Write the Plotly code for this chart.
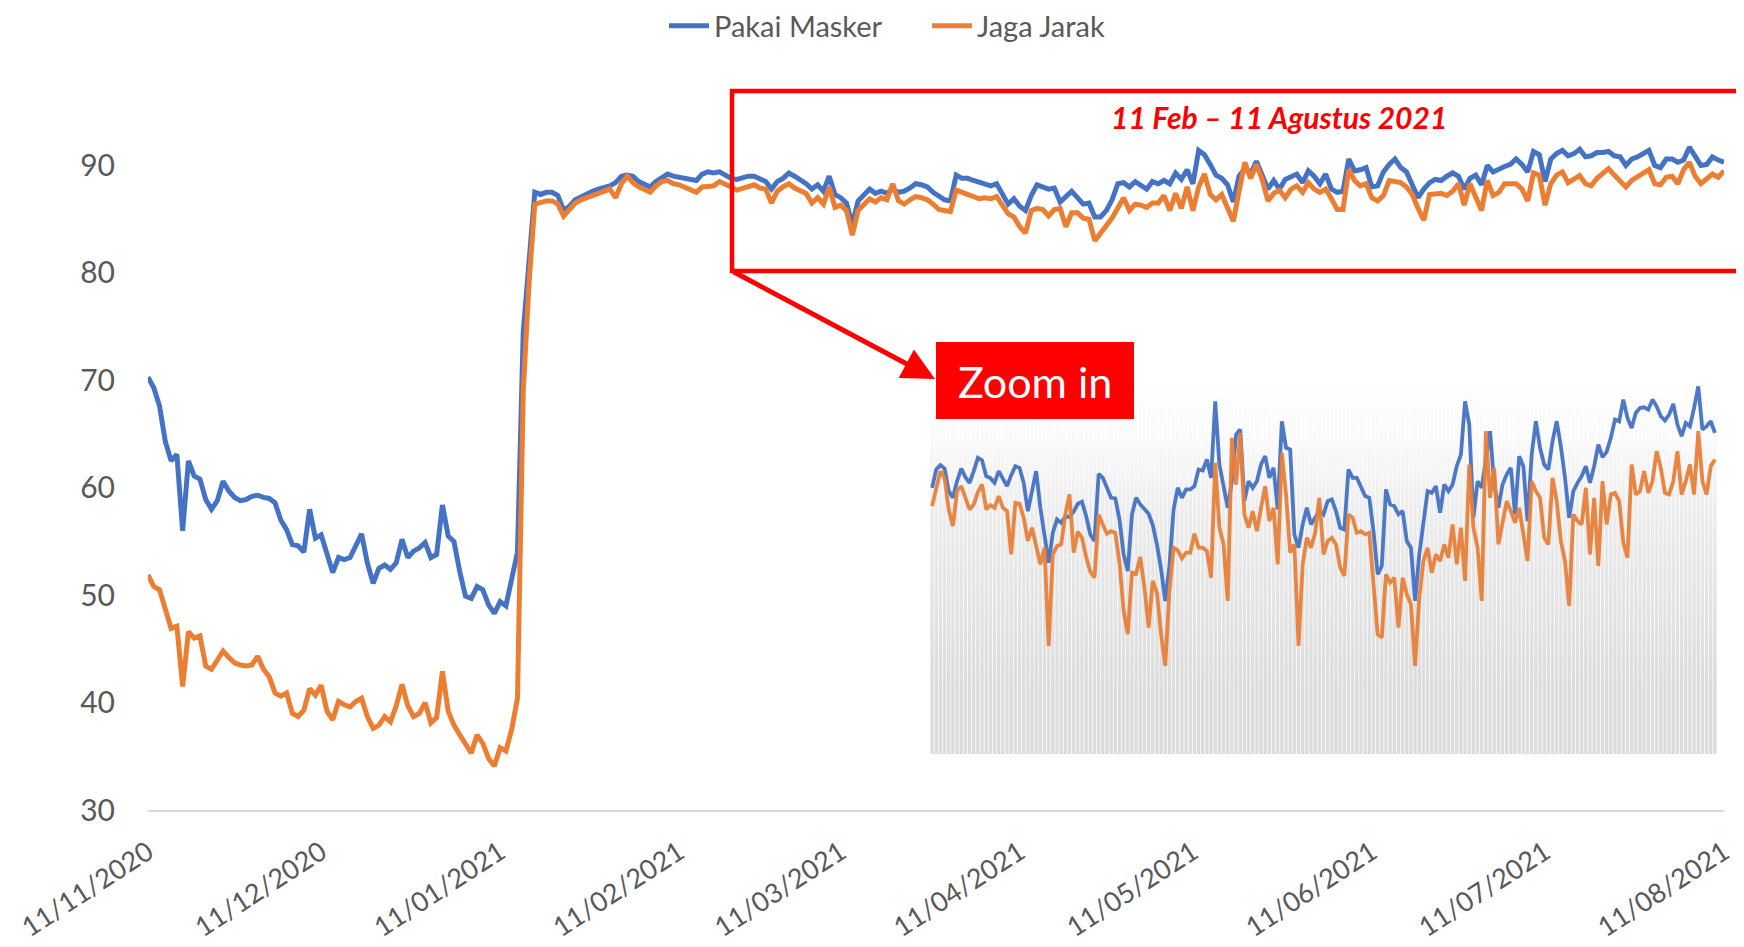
import pandas as pd
import plotly.graph_objects as go

# ---------------- main chart data (daily, 11/11/2020 .. 11/08/2021) ----------------
start_date = "2020-11-11"
end_date = "2021-08-11"

pakai_masker = [
    70.3, 69.3, 67.6, 64.3, 62.5, 63.1, 56.0, 62.5, 61.1, 60.8,
    58.9, 58.0, 58.8, 60.6, 59.7, 59.1, 58.8, 58.9, 59.2, 59.3,
    59.1, 59.0, 58.6, 57.0, 56.1, 54.7, 54.6, 54.0, 58.0, 55.3,
    55.6, 53.8, 52.1, 53.5, 53.3, 53.5, 54.6, 55.7, 53.0, 51.1,
    52.5, 52.8, 52.4, 53.0, 55.2, 53.5, 54.1, 54.4, 54.9, 53.5,
    53.8, 58.4, 55.5, 55.0, 52.2, 49.9, 49.7, 50.8, 50.5, 49.1,
    48.3, 49.4, 49.0, 51.5, 54.0, 74.5, 81.0, 87.5, 87.3, 87.5,
    87.5, 87.2, 85.8, 86.2, 86.8, 87.1, 87.3, 87.6, 87.8, 87.9,
    88.1, 88.4, 89.0, 89.1, 89.0, 88.5, 88.2, 88.0, 88.5, 88.8,
    89.2, 89.0, 88.9, 88.9, 88.8, 88.6, 89.2, 89.4, 89.3, 89.4,
    89.1, 88.8, 88.7, 88.9, 89.0, 89.0, 88.8, 88.5, 87.8, 88.5,
    88.8, 89.3, 89.0, 88.7, 88.3, 87.8, 88.2, 87.6, 89.0, 87.3,
    87.0, 86.5, 84.5, 86.7, 87.2, 87.8, 87.4, 87.6, 87.4, 87.8,
    87.5, 87.6, 87.9, 88.3, 88.2, 88.0, 87.5, 87.2, 86.8, 86.7,
    89.1, 88.8, 88.8, 88.6, 88.4, 88.3, 88.1, 88.3, 87.3, 86.4,
    86.9, 86.2, 85.8, 87.2, 88.2, 88.0, 87.8, 87.9, 86.6, 87.1,
    87.6, 87.0, 86.4, 86.5, 85.2, 85.2, 85.8, 86.8, 88.3, 88.4,
    88.0, 88.5, 88.2, 87.8, 88.5, 88.3, 88.6, 88.3, 89.3, 88.7,
    89.6, 88.3, 91.4, 91.0, 90.1, 89.1, 88.8, 88.2, 86.6, 89.0,
    89.7, 89.2, 90.4, 89.2, 87.8, 88.6, 87.8, 88.7, 89.0, 89.2,
    88.4, 89.5, 89.0, 88.3, 89.2, 87.8, 87.5, 87.6, 90.6, 89.5,
    89.6, 89.8, 88.0, 88.1, 89.4, 90.1, 90.6, 89.8, 89.4, 88.2,
    87.0, 87.8, 88.4, 88.7, 88.6, 89.0, 89.3, 89.0, 87.8, 88.8,
    89.1, 88.2, 90.0, 89.4, 89.7, 89.9, 90.1, 90.6, 90.1, 89.4,
    91.3, 91.0, 88.5, 90.6, 91.1, 91.4, 90.9, 91.1, 91.5, 90.8,
    90.9, 91.2, 91.2, 91.3, 90.9, 90.8, 90.0, 90.6, 90.8, 91.1,
    91.4, 90.0, 89.8, 90.6, 90.6, 90.3, 90.5, 91.7, 90.8, 90.0,
    90.1, 90.8, 90.5, 90.3,
]

jaga_jarak = [
    51.9, 50.8, 50.5, 48.5, 46.9, 47.1, 41.5, 46.6, 46.0, 46.2,
    43.4, 43.1, 44.0, 44.8, 44.2, 43.7, 43.5, 43.4, 43.5, 44.3,
    43.1, 42.4, 40.9, 40.6, 40.9, 39.0, 38.7, 39.3, 41.3, 40.7,
    41.6, 39.2, 38.4, 40.1, 39.8, 39.6, 40.1, 40.4, 38.7, 37.6,
    37.9, 38.7, 38.2, 39.7, 41.7, 39.7, 38.7, 39.0, 40.0, 38.1,
    38.6, 42.9, 39.2, 37.9, 37.0, 36.2, 35.3, 37.0, 36.2, 34.8,
    34.1, 35.8, 35.5, 37.5, 40.4, 69.0, 79.0, 86.4, 86.6, 86.7,
    86.7, 86.4, 85.3, 85.9, 86.5, 86.8, 87.0, 87.2, 87.4, 87.6,
    87.8, 87.0, 88.3, 89.0, 88.4, 88.0, 87.8, 87.5, 88.1, 88.5,
    88.6, 88.3, 88.2, 88.0, 87.8, 87.5, 88.0, 88.1, 88.1, 88.5,
    88.3, 88.0, 87.7, 87.9, 88.0, 88.2, 87.9, 87.8, 86.5, 87.6,
    88.0, 88.3, 87.9, 87.7, 87.4, 86.5, 87.0, 86.4, 88.0, 86.1,
    86.3, 85.8, 83.5, 85.8, 86.3, 86.9, 86.6, 87.0, 86.8, 88.3,
    86.7, 86.4, 86.8, 87.1, 87.0, 86.8, 86.4, 85.9, 85.8, 85.7,
    87.7, 87.5, 87.3, 87.0, 86.9, 87.0, 86.9, 87.1, 86.3, 85.5,
    85.2, 84.3, 83.7, 85.8, 86.0, 85.9, 85.3, 85.9, 86.0, 84.3,
    85.6, 85.6, 85.1, 85.0, 83.0, 83.8, 84.4, 85.1, 86.0, 87.0,
    85.8, 86.4, 86.3, 86.1, 86.5, 86.5, 87.2, 85.8, 87.4, 86.0,
    88.0, 85.8, 88.0, 89.2, 87.3, 86.8, 87.3, 86.0, 84.8, 87.6,
    90.3, 88.8, 90.1, 88.7, 86.7, 87.4, 87.7, 87.0, 87.8, 88.1,
    87.5, 88.4, 87.8, 87.5, 87.8, 86.9, 85.9, 85.9, 89.6, 88.6,
    88.1, 88.3, 87.0, 86.7, 87.2, 88.6, 88.5, 88.4, 88.0, 87.3,
    86.0, 84.9, 87.3, 87.4, 87.4, 87.2, 87.6, 88.3, 86.3, 88.3,
    87.1, 85.8, 88.6, 87.2, 87.5, 88.3, 88.3, 88.3, 87.8, 86.7,
    89.3, 89.1, 86.3, 88.3, 89.1, 89.4, 88.4, 88.7, 89.05, 88.3,
    88.1, 88.8, 89.3, 89.7, 89.1, 88.5, 88.0, 88.6, 88.9, 89.2,
    89.6, 88.3, 88.2, 88.9, 89.0, 88.3, 89.6, 90.3, 89.0, 88.3,
    88.8, 89.2, 88.9, 89.5,
]

tick_dates = ["2020-11-11", "2020-12-11", "2021-01-11", "2021-02-11", "2021-03-11",
              "2021-04-11", "2021-05-11", "2021-06-11", "2021-07-11", "2021-08-11"]
tick_labels = ["11/11/2020", "11/12/2020", "11/01/2021", "11/02/2021", "11/03/2021",
               "11/04/2021", "11/05/2021", "11/06/2021", "11/07/2021", "11/08/2021"]
y_ticks = [30, 40, 50, 60, 70, 80, 90]

# ---------------- inset ("Zoom in") data, in the inset's own relative units ----------------
inset_masker = [
    80.0, 85.5, 86.8, 85.8, 79.0, 77.0, 82.0, 85.8, 83.2, 81.5,
    85.0, 89.0, 88.3, 83.5, 82.9, 81.5, 85.0, 83.0, 80.5, 83.8,
    86.5, 86.0, 81.5, 73.0, 78.5, 85.0, 74.0, 65.0, 57.5, 66.5,
    70.5, 69.5, 71.3, 71.3, 72.8, 75.2, 75.8, 71.5, 66.0, 64.0,
    84.2, 83.0, 79.8, 77.0, 76.8, 70.5, 60.0, 55.0, 72.0, 77.0,
    75.0, 73.5, 72.2, 68.8, 63.0, 55.5, 46.0, 56.5, 73.5, 80.0,
    77.0, 79.5, 79.5, 80.5, 85.5, 85.2, 88.5, 83.0, 106.0, 87.0,
    81.0, 74.0, 82.0, 96.0, 97.5, 76.0, 82.0, 80.0, 82.0, 87.0,
    89.5, 83.0, 86.0, 73.5, 100.0, 92.0, 91.5, 66.0, 62.0, 69.0,
    74.0, 69.0, 71.0, 73.0, 72.0, 76.0, 76.5, 73.0, 68.0, 67.5,
    85.5, 83.0, 83.0, 80.0, 77.5, 77.0, 67.0, 54.0, 56.5, 79.5,
    75.0, 74.5, 72.0, 73.0, 64.0, 62.0, 46.0, 60.0, 69.0, 79.0,
    78.5, 80.5, 72.5, 81.0, 79.0, 81.0, 86.5, 90.0, 106.0, 99.0,
    71.0, 82.0, 80.0, 88.0, 97.0, 81.0, 74.0, 81.0, 84.0, 86.0,
    72.0, 89.5, 86.5, 70.0, 90.0, 100.0, 92.0, 87.0, 85.5, 94.0,
    100.0, 92.5, 83.0, 71.0, 79.0, 81.5, 83.5, 86.5, 81.5, 86.5,
    93.0, 89.2, 90.8, 95.0, 100.5, 100.0, 106.5, 101.0, 98.0, 102.5,
    104.0, 104.2, 103.5, 106.5, 104.5, 101.5, 100.2, 102.0, 105.2, 99.0,
    95.5, 99.5, 98.5, 104.0, 110.5, 97.5, 98.5, 100.0, 96.5,
]

inset_jarak = [
    74.5, 80.0, 85.0, 83.0, 73.5, 68.5, 79.0, 80.5, 77.0, 73.5,
    75.0, 78.7, 81.0, 73.5, 74.8, 74.0, 77.5, 74.0, 73.0, 60.0,
    75.5, 75.2, 71.0, 64.0, 68.0, 62.0, 57.0, 62.0, 32.5, 60.0,
    62.5, 63.0, 72.0, 78.0, 60.5, 66.8, 65.0, 59.2, 54.8, 53.0,
    72.0, 69.0, 66.2, 67.0, 66.5, 57.5, 43.0, 36.0, 54.5, 54.2,
    59.2, 50.0, 38.0, 52.0, 48.5, 36.0, 26.5, 49.0, 62.0, 61.2,
    58.8, 60.5, 60.5, 66.2, 62.0, 62.0, 61.0, 53.0, 87.5, 68.0,
    63.0, 46.0, 95.0, 81.0, 96.5, 72.0, 68.0, 73.0, 67.0, 74.0,
    80.5, 70.0, 74.0, 57.0, 90.5, 78.0, 60.5, 63.0, 32.5, 57.0,
    65.0, 62.0, 66.5, 77.0, 60.0, 64.0, 65.0, 63.0, 56.0, 53.5,
    72.0, 71.0, 66.5, 67.0, 66.0, 66.5, 50.0, 36.0, 35.0, 54.0,
    51.5, 53.0, 38.0, 53.0, 48.0, 45.0, 26.5, 47.0, 58.0, 62.0,
    54.5, 60.0, 58.0, 63.0, 59.0, 69.0, 57.0, 68.0, 52.0, 87.0,
    68.0, 62.0, 46.0, 97.0, 77.0, 86.0, 63.0, 70.0, 76.0, 73.0,
    69.5, 74.0, 66.0, 58.0, 82.0, 79.0, 77.0, 65.0, 63.0, 83.0,
    76.0, 64.0, 58.0, 44.5, 72.0, 70.0, 69.0, 80.0, 60.0, 77.0,
    56.5, 82.0, 69.0, 78.0, 78.5, 76.0, 63.5, 59.0, 87.0, 78.0,
    79.0, 85.0, 78.5, 82.0, 91.0, 86.0, 78.5, 78.0, 82.0, 91.0,
    78.0, 82.0, 87.0, 78.0, 97.0, 82.0, 78.0, 86.5, 88.5,
]

# ---------------- styling / layout constants ----------------
W, H = 1744, 947
DX, DY = -5, -7                     # global nudge of the whole drawing
L, R = 145 + DX, 28
T, B = 100 + DY, 138 - DY
Y_RANGE = [30, 96]
BLUE = "#4472C4"
ORANGE = "#ED7D31"
GREY_TXT = "#595959"
FONT = "Lato, 'Open Sans', 'DejaVu Sans', sans-serif"
INSET_TOP = 113.0  # top of the inset's grey columns in inset units

dates = pd.date_range(start_date, end_date, freq="D")
n_in = len(inset_masker)
inset_x = list(range(n_in))

fig = go.Figure()

# main series
fig.add_trace(go.Scatter(x=dates, y=pakai_masker, name="Pakai Masker", mode="lines",
                         line=dict(color=BLUE, width=5)))
fig.add_trace(go.Scatter(x=dates, y=jaga_jarak, name="Jaga Jarak", mode="lines",
                         line=dict(color=ORANGE, width=5)))

# inset: grey column background
fig.add_trace(go.Bar(x=inset_x, y=[INSET_TOP] * n_in, xaxis="x2", yaxis="y2",
                     marker=dict(color="#dcdcdc", line=dict(width=0)),
                     showlegend=False, hoverinfo="skip"))
# inset: white fade over the top of the columns
fig.add_trace(go.Scatter(x=[-0.6, n_in - 0.4, n_in - 0.4, -0.6, -0.6],
                         y=[20, 20, INSET_TOP, INSET_TOP, 20],
                         xaxis="x2", yaxis="y2", mode="lines", fill="toself",
                         line=dict(width=0, color="rgba(0,0,0,0)"),
                         fillgradient=dict(type="vertical",
                                           colorscale=[[0, "rgba(255,255,255,0)"],
                                                       [0.55, "rgba(255,255,255,0.45)"],
                                                       [0.8, "rgba(255,255,255,0.85)"],
                                                       [1, "rgba(255,255,255,1)"]]),
                         showlegend=False, hoverinfo="skip"))
fig.add_trace(go.Scatter(x=inset_x, y=inset_masker, xaxis="x2", yaxis="y2", mode="lines",
                         line=dict(color="#4472C4", width=3.8), opacity=0.95,
                         showlegend=False, hoverinfo="skip"))
fig.add_trace(go.Scatter(x=inset_x, y=inset_jarak, xaxis="x2", yaxis="y2", mode="lines",
                         line=dict(color="#E8803A", width=3.8), opacity=0.95,
                         showlegend=False, hoverinfo="skip"))

plot_w = W - L - R
plot_h = H - T - B


def px(x):
    return (x + DX - L) / plot_w


def py(y):
    return (H - B - (y + DY)) / plot_h


fig.update_layout(
    width=W, height=H,
    margin=dict(l=L, r=R, t=T, b=B, autoexpand=False),
    paper_bgcolor="white", plot_bgcolor="white",
    font=dict(family=FONT, size=26, color=GREY_TXT),
    bargap=0.18,
    showlegend=True,
    legend=dict(orientation="h", x=px(924), xanchor="center", y=py(25), yanchor="middle",
                font=dict(family=FONT, size=29, color=GREY_TXT),
                bgcolor="rgba(0,0,0,0)", itemwidth=40, traceorder="normal",
                entrywidth=208, entrywidthmode="pixels"),
    xaxis=dict(type="date", range=[start_date, end_date],
               tickvals=tick_dates, ticktext=tick_labels, tickangle=-33,
               showgrid=False, zeroline=False,
               showline=True, linecolor="#d9d9d9", linewidth=2,
               ticks="outside", ticklen=14, tickcolor="rgba(0,0,0,0)",
               tickfont=dict(family=FONT, size=27, color=GREY_TXT)),
    yaxis=dict(range=Y_RANGE, tickvals=y_ticks, showgrid=False, zeroline=False,
               showline=False, ticks="outside", ticklen=26, tickcolor="rgba(0,0,0,0)",
               tickfont=dict(family=FONT, size=30, color=GREY_TXT)),
    xaxis2=dict(domain=[px(927), px(1714)], range=[-0.5, n_in - 0.5], anchor="y2",
                visible=False, fixedrange=True),
    yaxis2=dict(domain=[py(753), py(377)], range=[0, INSET_TOP], anchor="x2",
                visible=False, fixedrange=True),
)

# red highlight rectangle
fig.add_shape(type="rect", xref="paper", yref="paper",
              x0=px(729), x1=(1741 - L) / plot_w, y0=py(270), y1=py(90),
              line=dict(color="#FF0000", width=4.5), fillcolor="rgba(0,0,0,0)", layer="above")
# "Zoom in" label box
fig.add_shape(type="rect", xref="paper", yref="paper",
              x0=px(933), x1=px(1131), y0=py(418), y1=py(341),
              line=dict(width=0), fillcolor="#FF0000", layer="above")
fig.add_annotation(xref="paper", yref="paper", x=px(1032), y=py(380), text="Zoom in",
                   showarrow=False, font=dict(family=FONT, size=43, color="white"),
                   xanchor="center", yanchor="middle")
# arrow from rectangle to "Zoom in"
fig.add_annotation(xref="paper", yref="paper", x=px(932), y=py(378), text="",
                   showarrow=True, arrowhead=2, arrowsize=1.3, arrowwidth=5,
                   arrowcolor="#FF0000", ax=729 - 932, ay=270 - 378, standoff=0)
# period label
fig.add_annotation(xref="paper", yref="paper", x=px(1276), y=py(116),
                   text="<b><i>11 Feb – 11 Agustus 2021</i></b>", showarrow=False,
                   font=dict(family=FONT, size=30, color="#FF0000"),
                   xanchor="center", yanchor="middle")

fig.write_html("out.html")
